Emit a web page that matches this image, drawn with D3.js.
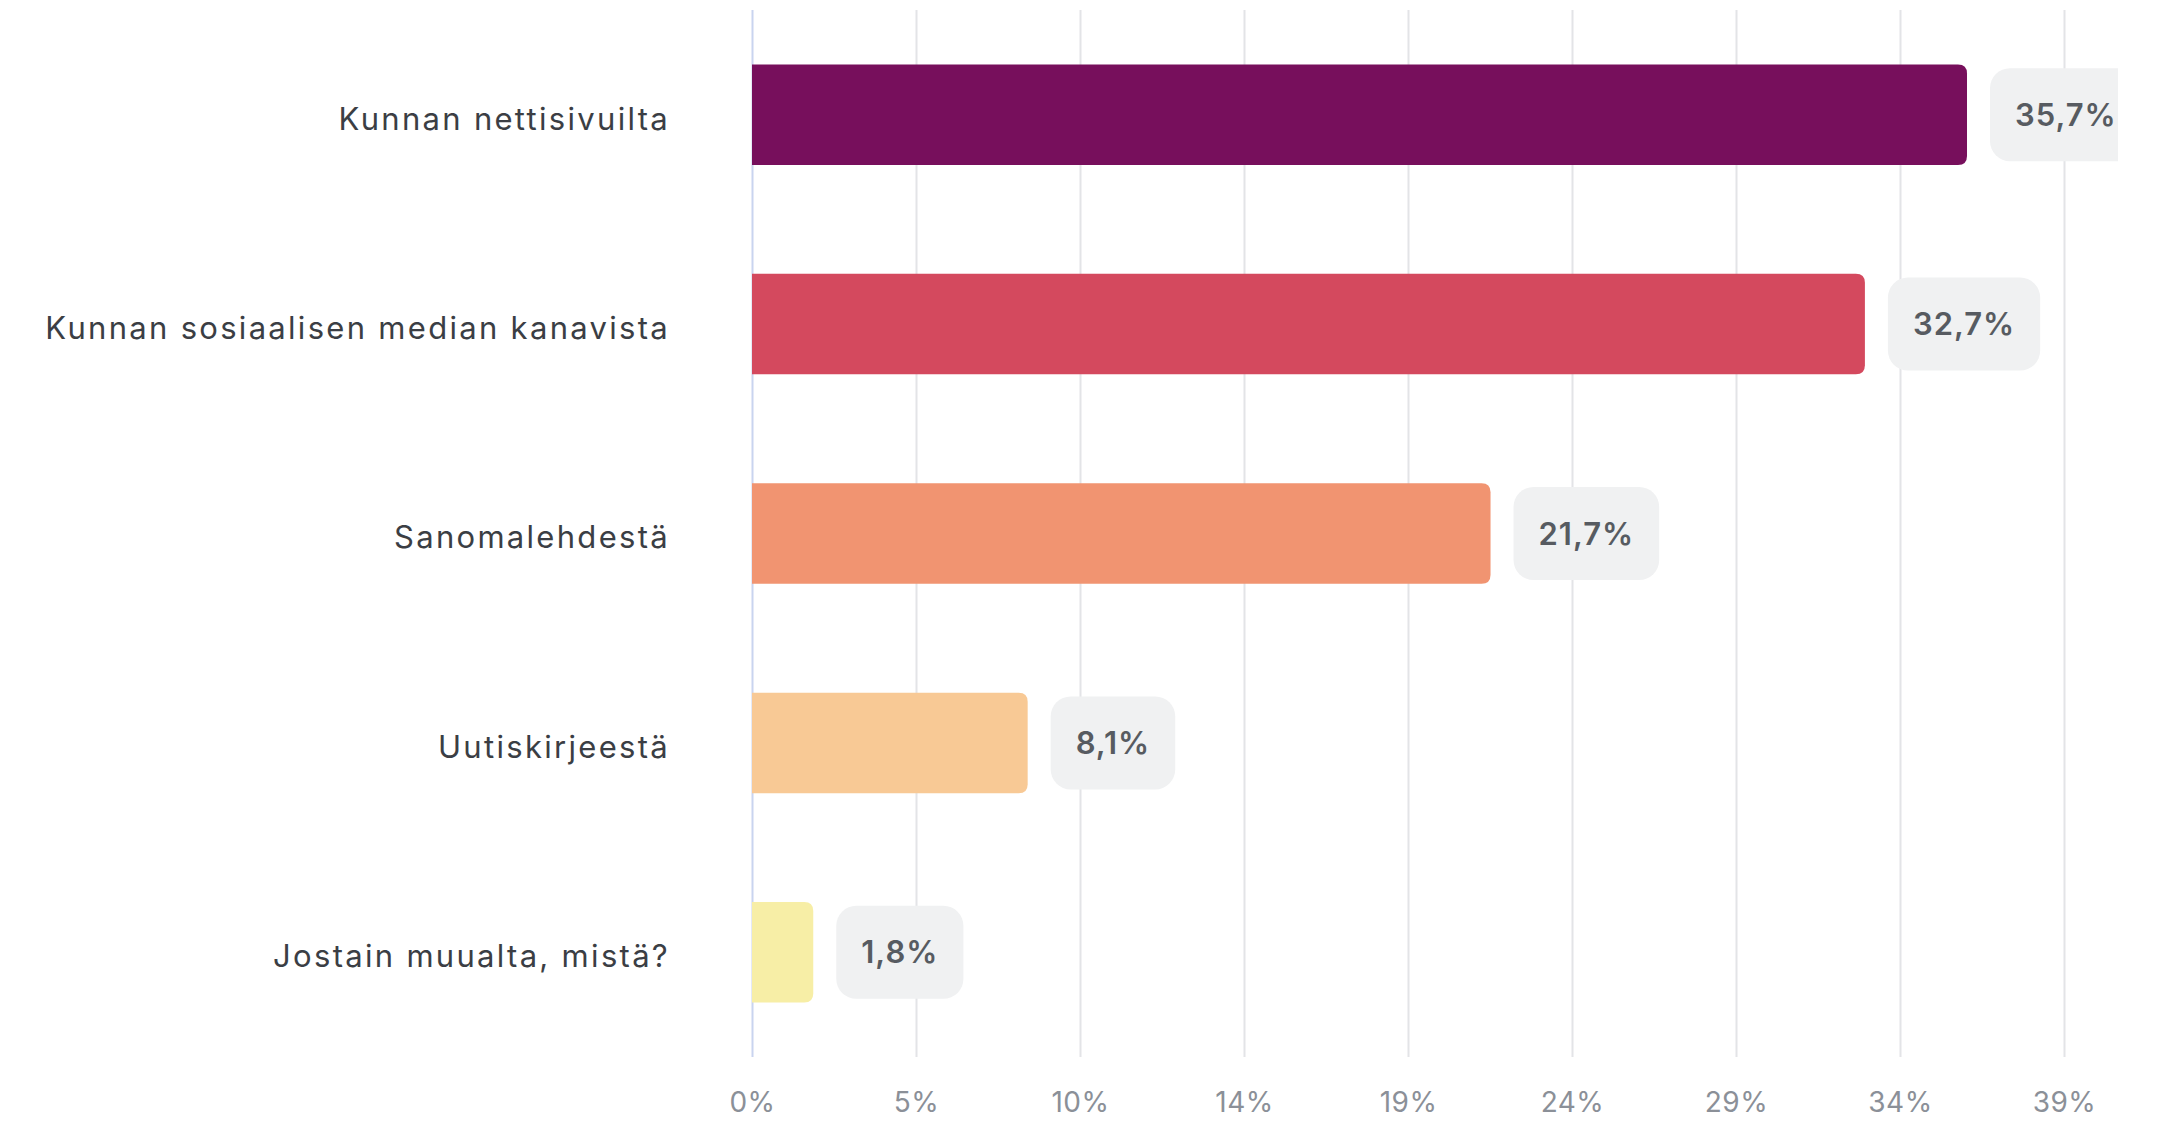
<!DOCTYPE html>
<html>
<head>
<meta charset="utf-8">
<script src="https://cdn.jsdelivr.net/npm/d3@7"></script>
<style>
  html, body { margin: 0; padding: 0; background: #ffffff; }
  svg { display: block; font-family: Inter, "Noto Sans", sans-serif; }
</style>
</head>
<body>
<script>
// Chart data
var categories = [
    "Kunnan nettisivuilta",
    "Kunnan sosiaalisen median kanavista",
    "Sanomalehdestä",
    "Uutiskirjeestä",
    "Jostain muualta, mistä?"
];
var values = [35.7, 32.7, 21.7, 8.1, 1.8];
var tickLabels = ["0%", "5%", "10%", "14%", "19%", "24%", "29%", "34%", "39%"];
var xMax = 38.55;

// Bar colours, one per category
var barColors = ["#770f5c", "#d4495e", "#f19471", "#f8c995", "#f7eea6"];

// Dimensions (plot area in page pixels)
var width = 2118;
var height = 1121;
var plotLeft = 752;
var plotRight = 2064;
var plotTop = 10;
var plotBottom = 1057;

var svg = d3.select("body").
    append("svg").
    attr("width", width).
    attr("height", height);

var xScale = d3.scaleLinear().
    domain([0, xMax]).
    range([plotLeft, plotRight]);

var yScale = d3.scaleBand().
    domain(categories).
    range([plotTop, plotBottom]).
    paddingInner(0.52).
    paddingOuter(0.26);

// Vertical grid lines and tick labels
var tickValues = d3.range(tickLabels.length).map(function(i) {
    return i * xMax / (tickLabels.length - 1);
});
var xAxis = d3.axisBottom(xScale).
    tickValues(tickValues).
    tickSize(-(plotBottom - plotTop)).
    tickPadding(35).
    tickFormat(function(d, i) { return tickLabels[i]; });

var gx = svg.append("g").
    attr("class", "x axis").
    attr("transform", "translate(0," + plotBottom + ")").
    call(xAxis);
gx.select(".domain").remove();
gx.selectAll(".tick line").
    attr("stroke", function(d, i) { return i === 0 ? "#c9d4ef" : "#e3e4e7"; }).
    attr("stroke-width", 2);
gx.selectAll(".tick text").
    attr("fill", "#8b9098").
    attr("font-size", "28px").
    attr("letter-spacing", "0.5px").
    attr("font-family", "Inter, sans-serif").
    attr("dy", "0.71em");

// Bars: square on the left, rounded on the right
var r = 9;
function barPath(x0, x1, y0, h) {
    var w = x1 - x0;
    var rr = Math.min(r, w / 2);
    return "M" + x0 + "," + y0 +
        "H" + (x1 - rr) +
        "Q" + x1 + "," + y0 + " " + x1 + "," + (y0 + rr) +
        "V" + (y0 + h - rr) +
        "Q" + x1 + "," + (y0 + h) + " " + (x1 - rr) + "," + (y0 + h) +
        "H" + x0 + "Z";
}

svg.selectAll("path.bar").
    data(values).
    enter().
    append("path").
    attr("class", "bar").
    attr("d", function(d, i) {
        return barPath(xScale(0), xScale(d), yScale(categories[i]), yScale.bandwidth());
    }).
    attr("fill", function(d, i) { return barColors[i]; });

// Category labels
svg.selectAll("text.cat").
    data(categories).
    enter().
    append("text").
    attr("class", "cat").
    attr("x", 670).
    attr("y", function(d) { return yScale(d) + yScale.bandwidth() / 2 + 4; }).
    attr("dy", "0.35em").
    attr("text-anchor", "end").
    attr("font-size", "31px").
    attr("letter-spacing", "2.3px").
    attr("fill", "#3b3e44").
    text(function(d) { return d; });

// Value labels in grey rounded boxes
var fmt = function(v) { return d3.format(".1f")(v).replace(".", ",") + "%"; };
var boxH = 93;
var padX = 25;

var labels = svg.selectAll("g.value").
    data(values).
    enter().
    append("g").
    attr("class", "value").
    attr("transform", function(d, i) {
        return "translate(" + (xScale(d) + 23) + "," +
            (yScale(categories[i]) + yScale.bandwidth() / 2) + ")";
    });

var boxes = labels.append("rect").
    attr("y", -boxH / 2).
    attr("height", boxH).
    attr("rx", 20).
    attr("fill", "#f0f1f2");

var texts = labels.append("text").
    attr("x", padX).
    attr("dy", "0.36em").
    attr("font-size", "31px").
    attr("letter-spacing", "1px").
    attr("font-weight", 600).
    attr("fill", "#575b61").
    text(fmt);

texts.each(function(d, i) {
    var w = this.getComputedTextLength();
    d3.select(boxes.nodes()[i]).attr("width", w + 2 * padX);
});
</script>
</body>
</html>
